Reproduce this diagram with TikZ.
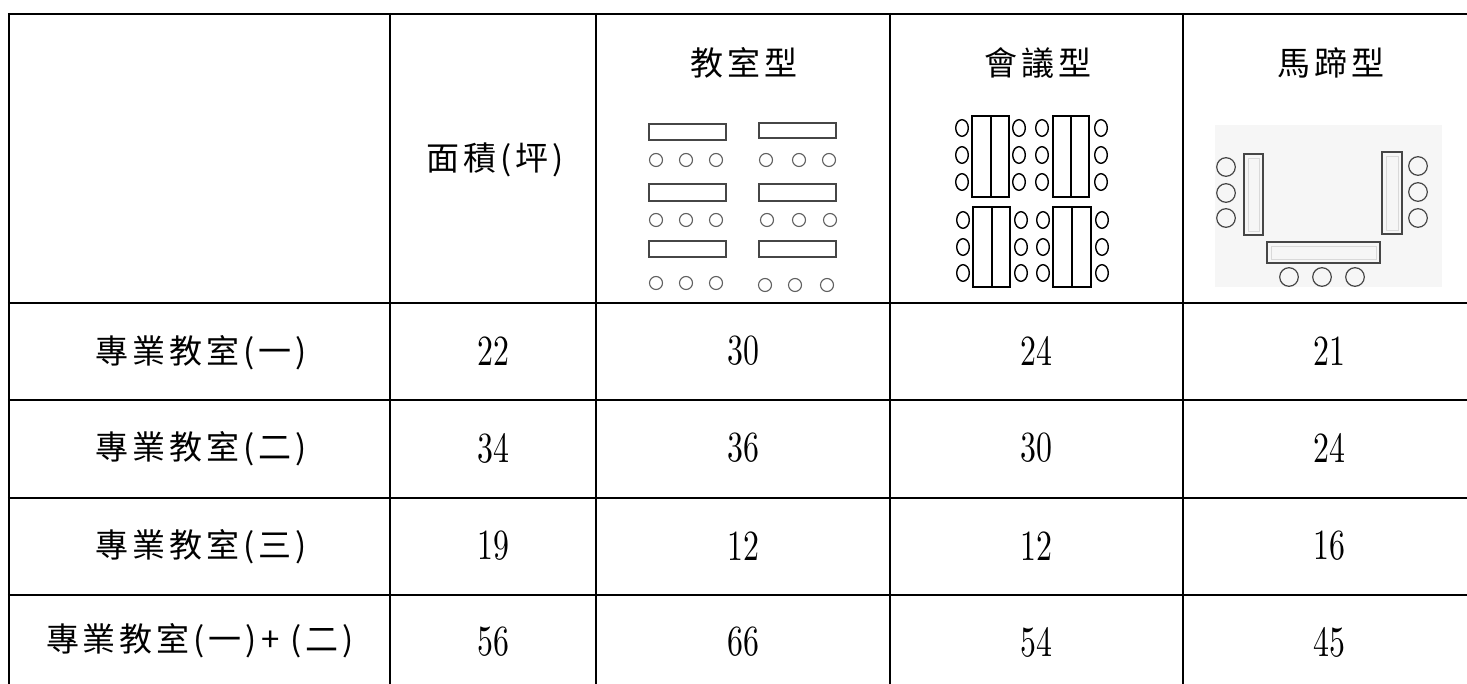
\documentclass[tikz,border=0pt]{standalone}
\usepackage{fontspec}
\usepackage{graphicx}
\newfontfamily\cjk[LetterSpace=12]{Noto Sans CJK TC}
\newfontfamily\numfont[Extension=.otf]{lmroman10-regular}
\newcommand\narrownum[1]{\scalebox{0.74}[1]{#1}}
\definecolor{hsbg}{RGB}{246,246,246}
\definecolor{icongray}{RGB}{70,70,70}
\definecolor{seatgray}{RGB}{95,95,95}
\begin{document}
\begin{tikzpicture}[x=1pt,y=-1pt,
  gridline/.style={line width=2.2pt,black},
  lab/.style={font=\cjk\fontsize{33}{40}\selectfont,inner sep=0pt,anchor=center},
  num/.style={font=\numfont\fontsize{43}{50}\selectfont,inner sep=0pt,anchor=center},
  desk/.style={draw=icongray,line width=1.3pt,fill=white},
  seat/.style={draw=seatgray,line width=1.1pt},
  cdesk/.style={draw=black,line width=1.4pt},
  cseat/.style={draw=black,line width=1.4pt},
  hdesk/.style={draw=icongray,line width=1.4pt},
  hseat/.style={draw=icongray,line width=1.2pt}]
\useasboundingbox (0,0) rectangle (1467,684);
\fill[white] (0,0) rectangle (1467,684);
% grid
\foreach \yy in {14,303,400,498,595}
  \draw[gridline] (7.9,\yy) -- (1467,\yy);
\foreach \xx in {9,390,596,890,1183}
  \draw[gridline] (\xx,12.9) -- (\xx,684);
% header texts
\node[lab] (hArea) at (495,160) {面積(坪)};
\node[lab] (hClass) at (744,63) {教室型};
\node[lab] (hConf) at (1038,63) {會議型};
\node[lab] (hHorse) at (1331,63) {馬蹄型};
% row labels
\node[lab] (r1) at (201,353) {專業教室(一)};
\node[lab] (r2) at (201,449) {專業教室(二)};
\node[lab] (r3) at (201,547) {專業教室(三)};
\node[lab] (r4) at (200,641) {專業教室(一)+ (二)};
% numbers
\node[num] (n11) at (493,351) {\narrownum{22}};
\node[num] (n12) at (743,351) {\narrownum{30}};
\node[num] (n13) at (1036,351) {\narrownum{24}};
\node[num] (n14) at (1329,351) {\narrownum{21}};
\node[num] (n21) at (493,448) {\narrownum{34}};
\node[num] (n22) at (743,448) {\narrownum{36}};
\node[num] (n23) at (1036,448) {\narrownum{30}};
\node[num] (n24) at (1329,448) {\narrownum{24}};
\node[num] (n31) at (493,546) {\narrownum{19}};
\node[num] (n32) at (743,546) {\narrownum{12}};
\node[num] (n33) at (1036,546) {\narrownum{12}};
\node[num] (n34) at (1329,546) {\narrownum{16}};
\node[num] (n41) at (493,642) {\narrownum{56}};
\node[num] (n42) at (743,642) {\narrownum{66}};
\node[num] (n43) at (1036,642) {\narrownum{54}};
\node[num] (n44) at (1329,642) {\narrownum{45}};
% classroom icon
\draw[desk] (649,124) rectangle (726,140);
\draw[desk] (759,123) rectangle (836,138);
\draw[desk] (649,184) rectangle (726,201);
\draw[desk] (759,184) rectangle (836,201);
\draw[desk] (649,241) rectangle (726,257);
\draw[desk] (759,241) rectangle (836,257);
\foreach \xx in {656,686,716,766,799,829} \draw[seat] (\xx,160) circle (6.5);
\foreach \xx in {656,686,716,767,799,830} \draw[seat] (\xx,220) circle (6.5);
\foreach \xx in {656,686,716} \draw[seat] (\xx,283) circle (6.5);
\foreach \xx in {765,795,827} \draw[seat] (\xx,285) circle (6.5);
% conference icon
\draw[cdesk] (972,116) rectangle (1009,197) (991,116) -- (991,197);
\draw[cdesk] (1053,116) rectangle (1089,197) (1071,116) -- (1071,197);
\draw[cdesk] (973,207) rectangle (1010,287) (992,207) -- (992,287);
\draw[cdesk] (1053,207) rectangle (1091,287) (1072,207) -- (1072,287);
\foreach \xx in {962,1019,1042,1101}
  \foreach \yy in {128,155,182}
    \draw[cseat] (\xx,\yy) ellipse [x radius=6.3, y radius=8.3];
\foreach \xx in {963,1021,1043,1102}
  \foreach \yy in {220,247,273}
    \draw[cseat] (\xx,\yy) ellipse [x radius=6.3, y radius=8.3];
% horseshoe icon
\fill[hsbg] (1215,125) rectangle (1442,287);
\draw[hdesk] (1244,154) rectangle (1263,235);
\draw[hdesk] (1382,152) rectangle (1402,234);
\draw[hdesk] (1267,242) rectangle (1380,263);
\draw[gray!30,line width=0.5pt] (1248,158) rectangle (1259,231);
\draw[gray!30,line width=0.5pt] (1386,156) rectangle (1398,230);
\draw[gray!30,line width=0.5pt] (1271,246) rectangle (1376,259);
\foreach \yy in {167,193,218} \draw[hseat] (1226,\yy) circle (9.3);
\foreach \yy in {166,192,218} \draw[hseat] (1418,\yy) circle (9.3);
\foreach \xx in {1289,1322,1355} \draw[hseat] (\xx,277) circle (9.3);
\end{tikzpicture}
\end{document}
